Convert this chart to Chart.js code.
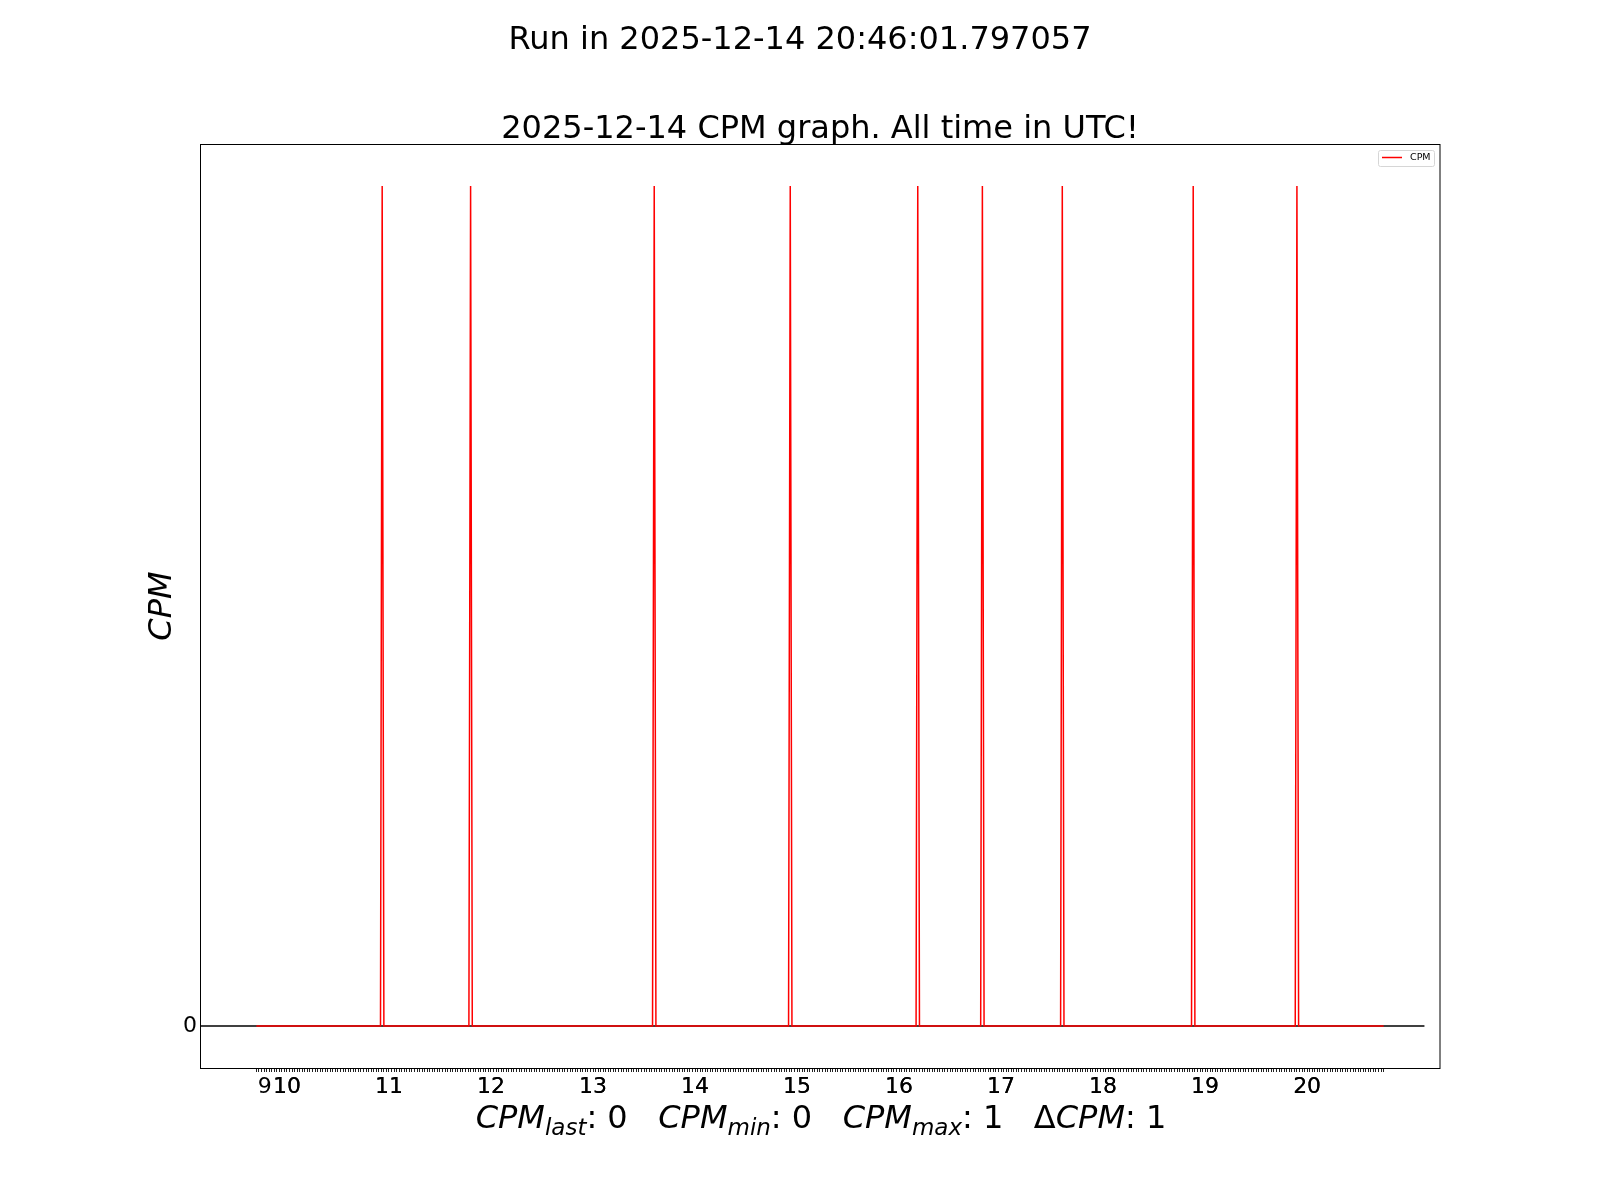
<!DOCTYPE html>
<html>
<head>
<meta charset="utf-8">
<script src="https://cdn.jsdelivr.net/npm/chart.js@4.4.1/dist/chart.umd.min.js"></script>
<style>
  html, body { margin: 0; padding: 0; background: #fff; }
  canvas { display: block; background: #fff; }
</style>
</head>
<body>
<canvas id="c" width="1600" height="1200"></canvas>
<script>
// ---- data ----
const suptitleText = 'Run in 2025-12-14 20:46:01.797057';
const titleText = '2025-12-14 CPM graph. All time in UTC!';
const yAxisLabel = 'CPM';
const seriesName = 'CPM';

const cpmTimes = ['09:42',
  '10:55','10:56','10:57',
  '11:47','11:48','11:49',
  '13:35','13:36','13:37',
  '14:55','14:56','14:57',
  '16:10','16:11','16:12',
  '16:48','16:49','16:50',
  '17:35','17:36','17:37',
  '18:52','18:53','18:54',
  '19:53','19:54','19:55',
  '20:45'];
const cpmValues = [0,
  0,1,0,
  0,1,0,
  0,1,0,
  0,1,0,
  0,1,0,
  0,1,0,
  0,1,0,
  0,1,0,
  0,1,0,
  0];

const baselineTimes = ['09:08', '21:09'];
const baselineValues = [0, 0];

const xTickTimes = ['09:47','10:00','11:00','12:00','13:00','14:00','15:00','16:00','17:00','18:00','19:00','20:00'];
const xTickLabels = ['9','10','11','12','13','14','15','16','17','18','19','20'];
const yTickValues = [0];

const statNames = ['last','min','max','delta'];
const statValues = [0, 0, 1, 1];

// ---- helpers ----
const toMin = s => { const [h, m] = s.split(':').map(Number); return h * 60 + m; };
const cpmPts = cpmTimes.map((t, i) => ({ x: toMin(t), y: cpmValues[i] }));
const basePts = baselineTimes.map((t, i) => ({ x: toMin(t), y: baselineValues[i] }));

const xs = cpmPts.map(p => p.x);
const dataMin = Math.min(...xs), dataMax = Math.max(...xs);
const span = dataMax - dataMin;
const xMin = dataMin - 0.05 * span, xMax = dataMax + 0.05 * span;
const ys = cpmValues;
const yLo = Math.min(...ys), yHi = Math.max(...ys);
const yMin = yLo - 0.05 * (yHi - yLo), yMax = yHi + 0.05 * (yHi - yLo);

const labelMap = {};
xTickTimes.forEach((t, i) => { labelMap[toMin(t)] = xTickLabels[i]; });

// minor tick marks (axis decoration) along the data range
function buildXTicks() {
  const vals = [];
  for (let v = dataMin; v <= dataMax + 0.5; v += 1.5) vals.push(v);
  Object.keys(labelMap).forEach(k => vals.push(Number(k)));
  vals.sort((a, b) => a - b);
  return vals.map(v => ({ value: v }));
}

const FONT = "'DejaVu Sans', 'Liberation Sans', sans-serif";

const decor = {
  id: 'decor',
  afterDraw(chart) {
    const ctx = chart.ctx;
    const a = chart.chartArea;
    ctx.save();
    // frame
    ctx.strokeStyle = '#000';
    ctx.lineWidth = 1;
    ctx.strokeRect(Math.round(a.left) + 0.5, Math.round(a.top) + 0.5,
                   Math.round(a.right - a.left) - 1 + 0.5, Math.round(a.bottom - a.top));
    // titles
    ctx.fillStyle = '#000';
    ctx.textAlign = 'center';
    ctx.textBaseline = 'alphabetic';
    ctx.font = '32px ' + FONT;
    ctx.fillText(suptitleText, 800, 49);
    ctx.fillText(titleText, (a.left + a.right) / 2, 138);
    // y axis label
    ctx.save();
    ctx.translate(171, (a.top + a.bottom) / 2);
    ctx.rotate(-Math.PI / 2);
    ctx.font = 'italic 32px ' + FONT;
    ctx.fillText(yAxisLabel, 0, 0);
    ctx.restore();
    // x axis label with subscripts
    const big = 32, small = 23;
    const segs = [];
    statNames.forEach((n, i) => {
      if (n === 'delta') {
        segs.push({ t: '\u0394', f: big + 'px ' + FONT, dy: 0 });
        segs.push({ t: 'CPM', f: 'italic ' + big + 'px ' + FONT, dy: 0 });
      } else {
        segs.push({ t: 'CPM', f: 'italic ' + big + 'px ' + FONT, dy: 0 });
        segs.push({ t: n, f: 'italic ' + small + 'px ' + FONT, dy: 7 });
      }
      segs.push({ t: ': ' + statValues[i] + (i < statNames.length - 1 ? '   ' : ''), f: big + 'px ' + FONT, dy: 0 });
    });
    let total = 0;
    segs.forEach(s => { ctx.font = s.f; s.w = ctx.measureText(s.t).width; total += s.w; });
    let x = 821 - total / 2;
    ctx.textAlign = 'left';
    segs.forEach(s => { ctx.font = s.f; ctx.fillText(s.t, x, 1128 + s.dy); x += s.w; });
    // legend
    const lx = 1378.5, ly = 150.5, lw = 56, lh = 16;
    ctx.beginPath();
    const r = 2;
    ctx.moveTo(lx + r, ly);
    ctx.lineTo(lx + lw - r, ly); ctx.quadraticCurveTo(lx + lw, ly, lx + lw, ly + r);
    ctx.lineTo(lx + lw, ly + lh - r); ctx.quadraticCurveTo(lx + lw, ly + lh, lx + lw - r, ly + lh);
    ctx.lineTo(lx + r, ly + lh); ctx.quadraticCurveTo(lx, ly + lh, lx, ly + lh - r);
    ctx.lineTo(lx, ly + r); ctx.quadraticCurveTo(lx, ly, lx + r, ly);
    ctx.fillStyle = 'rgba(255,255,255,0.8)';
    ctx.fill();
    ctx.strokeStyle = '#d6d6d6';
    ctx.lineWidth = 1;
    ctx.stroke();
    ctx.beginPath();
    ctx.strokeStyle = '#ff0000';
    ctx.lineWidth = 1.5;
    ctx.moveTo(1382, 157.5); ctx.lineTo(1402, 157.5);
    ctx.stroke();
    ctx.fillStyle = '#000';
    ctx.font = '9.5px ' + FONT;
    ctx.textBaseline = 'middle';
    ctx.fillText(seriesName, 1410, 158);
    ctx.restore();
  }
};

new Chart(document.getElementById('c'), {
  type: 'line',
  data: {
    datasets: [
      { label: seriesName, data: cpmPts, borderColor: '#ff0000', borderWidth: 1.5,
        pointRadius: 0, tension: 0, fill: false, clip: 0 },
      { label: 'zero', data: basePts, borderColor: '#000000', borderWidth: 1.3,
        pointRadius: 0, tension: 0, fill: false, clip: 0 }
    ]
  },
  options: {
    responsive: false,
    animation: false,
    devicePixelRatio: 1,
    events: [],
    parsing: true,
    layout: { padding: { top: 144, right: 160, left: 0, bottom: 0 } },
    plugins: { legend: { display: false }, title: { display: false }, tooltip: { enabled: false } },
    scales: {
      x: {
        type: 'linear', min: xMin, max: xMax, position: 'bottom',
        afterBuildTicks: s => { s.ticks = buildXTicks(); },
        afterFit: s => { s.height = 132; },
        ticks: {
          autoSkip: false, maxRotation: 0, minRotation: 0, padding: 2,
          color: '#000', font: { family: FONT, size: 22 },
          callback: v => (labelMap[v] !== undefined ? labelMap[v] : '')
        },
        grid: { display: true, drawOnChartArea: false, drawTicks: true, tickLength: 4, color: '#222', lineWidth: 1 },
        border: { display: false }
      },
      y: {
        type: 'linear', min: yMin, max: yMax,
        afterBuildTicks: s => { s.ticks = yTickValues.map(v => ({ value: v })); },
        afterFit: s => { s.width = 200; },
        ticks: { padding: 3, color: '#000', font: { family: FONT, size: 22 }, callback: v => String(v) },
        grid: { display: false, drawTicks: false },
        border: { display: false }
      }
    }
  },
  plugins: [decor]
});
</script>
</body>
</html>
